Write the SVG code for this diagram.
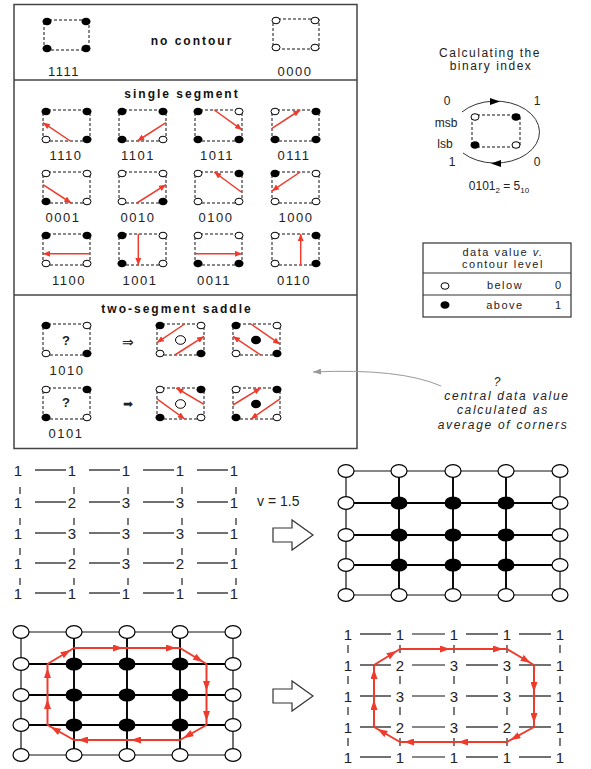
<svg xmlns="http://www.w3.org/2000/svg" xmlns:xlink="http://www.w3.org/1999/xlink" width="591" height="769" viewBox="0 0 591 769">
<style>
text { font-family: "Liberation Sans", Arial, sans-serif; fill: #222; }
.ttl { font-size: 12px; font-weight: bold; letter-spacing: 2px; text-anchor: middle; fill: #111; }
.code { font-size: 13px; letter-spacing: 1.5px; text-anchor: middle; }
.hint { font-size: 12px; letter-spacing: 1.5px; text-anchor: middle; }
.note { font-size: 12px; letter-spacing: 1.7px; text-anchor: middle; font-style: italic; }
.sq { fill: none; stroke: #111; stroke-width: 1; stroke-dasharray: 3 2; }
.seg { stroke: #ee3b2b; stroke-width: 1.5; fill: none; marker-end: url(#ahS); }
.ctr { stroke: #ee3b2b; stroke-width: 2; fill: none; marker-end: url(#ahL); }
.num { font-family: "DejaVu Sans", sans-serif; font-size: 15px; text-anchor: middle; fill: #000; }
.gl { stroke: #111; stroke-width: 1.2; }
.gi { stroke: #000; stroke-width: 1.9; }
.tk { stroke: #222; stroke-width: 1.2; }
.n0 { fill: #fff; stroke: #000; stroke-width: 1.2; }
.n1 { fill: #000; }
.frame { fill: none; stroke: #444; stroke-width: 1.5; }
.block { fill: #fff; stroke: #333; stroke-width: 1.2; }
</style>
<defs>
  <ellipse id="d1" rx="4.5" ry="3.8" fill="#000"/>
  <ellipse id="d0" rx="4" ry="3.3" fill="#fff" stroke="#000" stroke-width="1"/>
  <marker id="ahS" viewBox="0 0 7 6" refX="7" refY="3" markerWidth="7" markerHeight="6" markerUnits="userSpaceOnUse" orient="auto">
    <path d="M0,0 L7,3 L0,6 z" fill="#ee3b2b"/>
  </marker>
  <marker id="ahL" viewBox="0 0 14 7" refX="14" refY="3.5" markerWidth="14" markerHeight="7" markerUnits="userSpaceOnUse" orient="auto">
    <path d="M0,0 L10,3.5 L0,7 z" fill="#ee3b2b"/>
  </marker>
  <marker id="ahG" viewBox="0 0 8 6" refX="8" refY="3" markerWidth="8" markerHeight="6" markerUnits="userSpaceOnUse" orient="auto">
    <path d="M0,0 L8,3 L0,6 z" fill="#999"/>
  </marker>
</defs>

<rect width="591" height="769" fill="#fff"/>

<!-- case table frame -->
<g id="case-table">
  <rect class="frame" x="14" y="4.5" width="343" height="444"/>
  <line class="frame" x1="14" y1="80" x2="357" y2="80"/>
  <line class="frame" x1="14" y1="295" x2="357" y2="295"/>
  <text class="ttl" x="192" y="45">no contour</text>
  <text class="ttl" x="182" y="98">single segment</text>
  <text class="ttl" x="177" y="313">two-segment saddle</text>
</g>

<!-- no contour -->
<g id="case-1111" transform="translate(44,20)">
  <rect class="sq" width="45" height="30"/>
  <use href="#d1" x="3" y="1.5"/><use href="#d1" x="42" y="1.5"/><use href="#d1" x="42" y="28.5"/><use href="#d1" x="3" y="28.5"/>
  <text class="code" x="20" y="56">1111</text>
</g>
<g id="case-0000" transform="translate(273,19)">
  <rect class="sq" width="46" height="30"/>
  <use href="#d0" x="3" y="1.5"/><use href="#d0" x="42" y="1.5"/><use href="#d0" x="42" y="28.5"/><use href="#d0" x="3" y="28.5"/>
  <text class="code" x="22" y="57">0000</text>
</g>

<!-- single segment, row 1 -->
<g id="case-1110" transform="translate(43,110)">
  <rect class="sq" width="47" height="31"/>
  <use href="#d1" x="3" y="1.5"/><use href="#d1" x="44" y="1.5"/><use href="#d1" x="44" y="29.5"/><use href="#d0" x="3" y="29.5"/>
  <path class="seg" d="M27.3,31 L0,12.7"/>
  <text class="code" x="23" y="50">1110</text>
</g>
<g id="case-1101" transform="translate(119,110)">
  <rect class="sq" width="47" height="31"/>
  <use href="#d1" x="3" y="1.5"/><use href="#d1" x="44" y="1.5"/><use href="#d0" x="44" y="29.5"/><use href="#d1" x="3" y="29.5"/>
  <path class="seg" d="M47,12.7 L18.3,31"/>
  <text class="code" x="19" y="50">1101</text>
</g>
<g id="case-1011" transform="translate(195,110)">
  <rect class="sq" width="47" height="31"/>
  <use href="#d1" x="3" y="1.5"/><use href="#d0" x="44" y="1.5"/><use href="#d1" x="44" y="29.5"/><use href="#d1" x="3" y="29.5"/>
  <path class="seg" d="M19.3,0 L47,19.8"/>
  <text class="code" x="22" y="50">1011</text>
</g>
<g id="case-0111" transform="translate(272,110)">
  <rect class="sq" width="47" height="31"/>
  <use href="#d0" x="3" y="1.5"/><use href="#d1" x="44" y="1.5"/><use href="#d1" x="44" y="29.5"/><use href="#d1" x="3" y="29.5"/>
  <path class="seg" d="M0,18.3 L28.2,0"/>
  <text class="code" x="22" y="50">0111</text>
</g>

<!-- single segment, row 2 -->
<g id="case-0001" transform="translate(43,172)">
  <rect class="sq" width="47" height="31"/>
  <use href="#d0" x="3" y="1.5"/><use href="#d0" x="44" y="1.5"/><use href="#d0" x="44" y="29.5"/><use href="#d1" x="3" y="29.5"/>
  <path class="seg" d="M0,12.7 L28.2,31"/>
  <text class="code" x="20" y="50">0001</text>
</g>
<g id="case-0010" transform="translate(119,172)">
  <rect class="sq" width="47" height="31"/>
  <use href="#d0" x="3" y="1.5"/><use href="#d0" x="44" y="1.5"/><use href="#d1" x="44" y="29.5"/><use href="#d0" x="3" y="29.5"/>
  <path class="seg" d="M17.9,31 L47,12.7"/>
  <text class="code" x="19" y="50">0010</text>
</g>
<g id="case-0100" transform="translate(195,172)">
  <rect class="sq" width="47" height="31"/>
  <use href="#d0" x="3" y="1.5"/><use href="#d1" x="44" y="1.5"/><use href="#d0" x="44" y="29.5"/><use href="#d0" x="3" y="29.5"/>
  <path class="seg" d="M47,20.5 L19.3,0"/>
  <text class="code" x="21" y="50">0100</text>
</g>
<g id="case-1000" transform="translate(272,172)">
  <rect class="sq" width="47" height="31"/>
  <use href="#d1" x="3" y="1.5"/><use href="#d0" x="44" y="1.5"/><use href="#d0" x="44" y="29.5"/><use href="#d0" x="3" y="29.5"/>
  <path class="seg" d="M28.2,0 L0,18.9"/>
  <text class="code" x="24" y="50">1000</text>
</g>

<!-- single segment, row 3 -->
<g id="case-1100" transform="translate(43,234)">
  <rect class="sq" width="47" height="31"/>
  <use href="#d1" x="3" y="1.5"/><use href="#d1" x="44" y="1.5"/><use href="#d0" x="44" y="29.5"/><use href="#d0" x="3" y="29.5"/>
  <path class="seg" d="M47,19.8 L0,19.8"/>
  <text class="code" x="26" y="51">1100</text>
</g>
<g id="case-1001" transform="translate(119,234)">
  <rect class="sq" width="47" height="31"/>
  <use href="#d1" x="3" y="1.5"/><use href="#d0" x="44" y="1.5"/><use href="#d0" x="44" y="29.5"/><use href="#d1" x="3" y="29.5"/>
  <path class="seg" d="M19.3,0 L19.3,31"/>
  <text class="code" x="21" y="51">1001</text>
</g>
<g id="case-0011" transform="translate(195,234)">
  <rect class="sq" width="47" height="31"/>
  <use href="#d0" x="3" y="1.5"/><use href="#d0" x="44" y="1.5"/><use href="#d1" x="44" y="29.5"/><use href="#d1" x="3" y="29.5"/>
  <path class="seg" d="M0,19.8 L47,19.8"/>
  <text class="code" x="19" y="51">0011</text>
</g>
<g id="case-0110" transform="translate(272,234)">
  <rect class="sq" width="47" height="31"/>
  <use href="#d0" x="3" y="1.5"/><use href="#d1" x="44" y="1.5"/><use href="#d1" x="44" y="29.5"/><use href="#d0" x="3" y="29.5"/>
  <path class="seg" d="M28.7,31 L28.7,0"/>
  <text class="code" x="22" y="51">0110</text>
</g>

<!-- two-segment saddle, 1010 -->
<g id="case-1010" transform="translate(43,324)">
  <rect class="sq" width="47" height="31"/>
  <use href="#d1" x="3" y="1.5"/><use href="#d0" x="44" y="1.5"/><use href="#d1" x="44" y="29.5"/><use href="#d0" x="3" y="29.5"/>
  <text x="23" y="21" font-size="13" font-weight="bold" text-anchor="middle" fill="#333">?</text>
  <text class="code" x="24" y="51">1010</text>
</g>
<text x="128" y="347" font-family="DejaVu Sans, sans-serif" font-size="14" text-anchor="middle" fill="#333">⇒</text>
<g id="case-1010-low" transform="translate(157,324)">
  <rect class="sq" width="47" height="31"/>
  <use href="#d1" x="3" y="1.5"/><use href="#d0" x="44" y="1.5"/><use href="#d1" x="44" y="29.5"/><use href="#d0" x="3" y="29.5"/>
  <ellipse cx="23.5" cy="16" rx="5" ry="4.3" fill="#fff" stroke="#000"/>
  <path class="seg" d="M27.7,0 L0,18.6"/>
  <path class="seg" d="M17.9,31 L47,12.4"/>
</g>
<g id="case-1010-high" transform="translate(233,324)">
  <rect class="sq" width="47" height="31"/>
  <use href="#d1" x="3" y="1.5"/><use href="#d0" x="44" y="1.5"/><use href="#d1" x="44" y="29.5"/><use href="#d0" x="3" y="29.5"/>
  <ellipse cx="23" cy="16" rx="5" ry="4.3" fill="#000"/>
  <path class="seg" d="M17.9,0 L47,20.2"/>
  <path class="seg" d="M27.7,31 L0,12.4"/>
</g>

<!-- two-segment saddle, 0101 -->
<g id="case-0101" transform="translate(43,388)">
  <rect class="sq" width="47" height="31"/>
  <use href="#d0" x="3" y="1.5"/><use href="#d1" x="44" y="1.5"/><use href="#d0" x="44" y="29.5"/><use href="#d1" x="3" y="29.5"/>
  <text x="23" y="19" font-size="13" font-weight="bold" text-anchor="middle" fill="#333">?</text>
  <text class="code" x="23" y="50">0101</text>
</g>
<text x="128" y="408" font-family="DejaVu Sans, sans-serif" font-size="12" text-anchor="middle" fill="#666">➡</text>
<g id="case-0101-low" transform="translate(157,388)">
  <rect class="sq" width="47" height="31"/>
  <use href="#d0" x="3" y="1.5"/><use href="#d1" x="44" y="1.5"/><use href="#d0" x="44" y="29.5"/><use href="#d1" x="3" y="29.5"/>
  <ellipse cx="23.5" cy="16" rx="5" ry="4.3" fill="#fff" stroke="#000"/>
  <path class="seg" d="M47,16.4 L19.3,0"/>
  <path class="seg" d="M0,10.9 L27.7,31"/>
</g>
<g id="case-0101-high" transform="translate(233,388)">
  <rect class="sq" width="47" height="31"/>
  <use href="#d0" x="3" y="1.5"/><use href="#d1" x="44" y="1.5"/><use href="#d0" x="44" y="29.5"/><use href="#d1" x="3" y="29.5"/>
  <ellipse cx="23" cy="16" rx="5" ry="4.3" fill="#000"/>
  <path class="seg" d="M0,17 L27.7,0"/>
  <path class="seg" d="M47,10.9 L17.9,31"/>
</g>

<!-- binary index explanation -->
<g id="binary-index">
  <text class="hint" x="490" y="57">Calculating the</text>
  <text class="hint" x="491" y="70">binary index</text>
  <path d="M462,112 A44 31 0 1 1 463,153" fill="none" stroke="#333" stroke-width="1"/>
  <polygon points="500,101.5 490,98 490,105" fill="#000"/>
  <polygon points="491,163.5 501,160 501,167" fill="#000"/>
  <rect class="sq" x="472" y="115" width="48" height="32"/>
  <use href="#d0" x="475" y="117"/><use href="#d1" x="516" y="117"/><use href="#d0" x="516" y="145"/><use href="#d1" x="475" y="145"/>
  <text x="447" y="105" font-size="12" text-anchor="middle">0</text>
  <text x="537" y="105" font-size="12" text-anchor="middle">1</text>
  <text x="446" y="127" font-size="12" text-anchor="middle">msb</text>
  <text x="445" y="148" font-size="12" text-anchor="middle">lsb</text>
  <text x="452" y="166" font-size="12" text-anchor="middle">1</text>
  <text x="537" y="166" font-size="12" text-anchor="middle">0</text>
  <text x="499" y="190" font-size="12" text-anchor="middle">0101<tspan font-size="8" dy="3">2</tspan><tspan dy="-3"> = 5</tspan><tspan font-size="8" dy="3">10</tspan></text>
</g>

<!-- legend -->
<g id="legend">
  <rect x="423" y="243" width="148" height="74" fill="#fff" stroke="#333" stroke-width="1.2"/>
  <line x1="423" y1="273" x2="571" y2="273" stroke="#333" stroke-width="1.2"/>
  <line x1="423" y1="295" x2="571" y2="295" stroke="#333" stroke-width="1.2"/>
  <text x="503" y="256" font-size="11" letter-spacing="1.5" text-anchor="middle">data value <tspan font-style="italic">v.</tspan></text>
  <text x="503" y="268" font-size="11" letter-spacing="1.5" text-anchor="middle">contour level</text>
  <use href="#d0" x="445" y="286"/>
  <text x="505" y="289" font-size="11" letter-spacing="1.5" text-anchor="middle">below</text>
  <text x="558" y="289" font-size="11" text-anchor="middle">0</text>
  <use href="#d1" x="445" y="305"/>
  <text x="505" y="309" font-size="11" letter-spacing="1.5" text-anchor="middle">above</text>
  <text x="558" y="309" font-size="11" text-anchor="middle">1</text>
</g>

<!-- saddle note -->
<g id="saddle-note">
  <text class="note" x="498" y="386">?</text>
  <text class="note" x="507" y="400">central data value</text>
  <text class="note" x="503" y="414">calculated as</text>
  <text class="note" x="503" y="429">average of corners</text>
</g>
<g id="note-leader">
  <path d="M441,386 Q400,368 313,372" fill="none" stroke="#999" stroke-width="1" marker-end="url(#ahG)"/>
</g>

<!-- data grid -->
<g id="grid-values">
  <g class="gl">
    <line x1="35" y1="470" x2="66" y2="470"/><line x1="89" y1="470" x2="120" y2="470"/><line x1="143" y1="470" x2="174" y2="470"/><line x1="197" y1="470" x2="228" y2="470"/>
    <line x1="35" y1="502" x2="66" y2="502"/><line x1="89" y1="502" x2="120" y2="502"/><line x1="143" y1="502" x2="174" y2="502"/><line x1="197" y1="502" x2="228" y2="502"/>
    <line x1="35" y1="533" x2="66" y2="533"/><line x1="89" y1="533" x2="120" y2="533"/><line x1="143" y1="533" x2="174" y2="533"/><line x1="197" y1="533" x2="228" y2="533"/>
    <line x1="35" y1="563" x2="66" y2="563"/><line x1="89" y1="563" x2="120" y2="563"/><line x1="143" y1="563" x2="174" y2="563"/><line x1="197" y1="563" x2="228" y2="563"/>
    <line x1="35" y1="593" x2="66" y2="593"/><line x1="89" y1="593" x2="120" y2="593"/><line x1="143" y1="593" x2="174" y2="593"/><line x1="197" y1="593" x2="228" y2="593"/>
  </g>
  <g class="tk">
    <line x1="20" y1="487" x2="20" y2="494"/><line x1="74" y1="487" x2="74" y2="494"/><line x1="128" y1="487" x2="128" y2="494"/><line x1="182" y1="487" x2="182" y2="494"/><line x1="236" y1="487" x2="236" y2="494"/>
    <line x1="20" y1="518" x2="20" y2="525"/><line x1="74" y1="518" x2="74" y2="525"/><line x1="128" y1="518" x2="128" y2="525"/><line x1="182" y1="518" x2="182" y2="525"/><line x1="236" y1="518" x2="236" y2="525"/>
    <line x1="20" y1="548" x2="20" y2="555"/><line x1="74" y1="548" x2="74" y2="555"/><line x1="128" y1="548" x2="128" y2="555"/><line x1="182" y1="548" x2="182" y2="555"/><line x1="236" y1="548" x2="236" y2="555"/>
    <line x1="20" y1="578" x2="20" y2="585"/><line x1="74" y1="578" x2="74" y2="585"/><line x1="128" y1="578" x2="128" y2="585"/><line x1="182" y1="578" x2="182" y2="585"/><line x1="236" y1="578" x2="236" y2="585"/>
  </g>
  <g class="num">
    <text x="18" y="475.5">1</text><text x="72" y="475.5">1</text><text x="126" y="475.5">1</text><text x="180" y="475.5">1</text><text x="234" y="475.5">1</text>
    <text x="18" y="507.5">1</text><text x="72" y="507.5">2</text><text x="126" y="507.5">3</text><text x="180" y="507.5">3</text><text x="234" y="507.5">1</text>
    <text x="18" y="538.5">1</text><text x="72" y="538.5">3</text><text x="126" y="538.5">3</text><text x="180" y="538.5">3</text><text x="234" y="538.5">1</text>
    <text x="18" y="568.5">1</text><text x="72" y="568.5">2</text><text x="126" y="568.5">3</text><text x="180" y="568.5">2</text><text x="234" y="568.5">1</text>
    <text x="18" y="598.5">1</text><text x="72" y="598.5">1</text><text x="126" y="598.5">1</text><text x="180" y="598.5">1</text><text x="234" y="598.5">1</text>
  </g>
</g>

<!-- threshold step -->
<g id="threshold">
  <text x="257" y="506" font-family="DejaVu Sans, sans-serif" font-size="14" fill="#111">v = 1.5</text>
  <polygon class="block" points="273,528 292,528 292,520 313,535 292,550 292,542 273,542"/>
</g>

<!-- thresholded grid -->
<g id="grid-binary">
  <g class="gl">
    <line x1="346" y1="471" x2="560" y2="471"/><line x1="346" y1="595" x2="560" y2="595"/>
    <line x1="346" y1="471" x2="346" y2="595"/><line x1="560" y1="471" x2="560" y2="595"/>
  </g>
  <g class="gi">
    <line x1="346" y1="503" x2="560" y2="503"/><line x1="346" y1="535" x2="560" y2="535"/><line x1="346" y1="565" x2="560" y2="565"/>
    <line x1="399" y1="471" x2="399" y2="595"/><line x1="453" y1="471" x2="453" y2="595"/><line x1="506" y1="471" x2="506" y2="595"/>
  </g>
  <g>
    <ellipse class="n0" cx="346" cy="471" rx="8" ry="6.3"/><ellipse class="n0" cx="399" cy="471" rx="8" ry="6.3"/><ellipse class="n0" cx="453" cy="471" rx="8" ry="6.3"/><ellipse class="n0" cx="506" cy="471" rx="8" ry="6.3"/><ellipse class="n0" cx="560" cy="471" rx="8" ry="6.3"/>
    <ellipse class="n0" cx="346" cy="503" rx="8" ry="6.3"/><ellipse class="n1" cx="399" cy="503" rx="8.5" ry="6.6"/><ellipse class="n1" cx="453" cy="503" rx="8.5" ry="6.6"/><ellipse class="n1" cx="506" cy="503" rx="8.5" ry="6.6"/><ellipse class="n0" cx="560" cy="503" rx="8" ry="6.3"/>
    <ellipse class="n0" cx="346" cy="535" rx="8" ry="6.3"/><ellipse class="n1" cx="399" cy="535" rx="8.5" ry="6.6"/><ellipse class="n1" cx="453" cy="535" rx="8.5" ry="6.6"/><ellipse class="n1" cx="506" cy="535" rx="8.5" ry="6.6"/><ellipse class="n0" cx="560" cy="535" rx="8" ry="6.3"/>
    <ellipse class="n0" cx="346" cy="565" rx="8" ry="6.3"/><ellipse class="n1" cx="399" cy="565" rx="8.5" ry="6.6"/><ellipse class="n1" cx="453" cy="565" rx="8.5" ry="6.6"/><ellipse class="n1" cx="506" cy="565" rx="8.5" ry="6.6"/><ellipse class="n0" cx="560" cy="565" rx="8" ry="6.3"/>
    <ellipse class="n0" cx="346" cy="595" rx="8" ry="6.3"/><ellipse class="n0" cx="399" cy="595" rx="8" ry="6.3"/><ellipse class="n0" cx="453" cy="595" rx="8" ry="6.3"/><ellipse class="n0" cx="506" cy="595" rx="8" ry="6.3"/><ellipse class="n0" cx="560" cy="595" rx="8" ry="6.3"/>
  </g>
</g>

<!-- traced grid -->
<g id="grid-traced">
  <g class="gl">
    <line x1="21" y1="632" x2="233" y2="632"/><line x1="21" y1="755" x2="233" y2="755"/>
    <line x1="21" y1="632" x2="21" y2="755"/><line x1="233" y1="632" x2="233" y2="755"/>
  </g>
  <g class="gi">
    <line x1="21" y1="664" x2="233" y2="664"/><line x1="21" y1="695" x2="233" y2="695"/><line x1="21" y1="725" x2="233" y2="725"/>
    <line x1="74" y1="632" x2="74" y2="755"/><line x1="127" y1="632" x2="127" y2="755"/><line x1="180" y1="632" x2="180" y2="755"/>
  </g>
  <g>
    <ellipse class="n0" cx="21" cy="632" rx="8" ry="6.3"/><ellipse class="n0" cx="74" cy="632" rx="8" ry="6.3"/><ellipse class="n0" cx="127" cy="632" rx="8" ry="6.3"/><ellipse class="n0" cx="180" cy="632" rx="8" ry="6.3"/><ellipse class="n0" cx="233" cy="632" rx="8" ry="6.3"/>
    <ellipse class="n0" cx="21" cy="664" rx="8" ry="6.3"/><ellipse class="n1" cx="74" cy="664" rx="8.5" ry="6.6"/><ellipse class="n1" cx="127" cy="664" rx="8.5" ry="6.6"/><ellipse class="n1" cx="180" cy="664" rx="8.5" ry="6.6"/><ellipse class="n0" cx="233" cy="664" rx="8" ry="6.3"/>
    <ellipse class="n0" cx="21" cy="695" rx="8" ry="6.3"/><ellipse class="n1" cx="74" cy="695" rx="8.5" ry="6.6"/><ellipse class="n1" cx="127" cy="695" rx="8.5" ry="6.6"/><ellipse class="n1" cx="180" cy="695" rx="8.5" ry="6.6"/><ellipse class="n0" cx="233" cy="695" rx="8" ry="6.3"/>
    <ellipse class="n0" cx="21" cy="725" rx="8" ry="6.3"/><ellipse class="n1" cx="74" cy="725" rx="8.5" ry="6.6"/><ellipse class="n1" cx="127" cy="725" rx="8.5" ry="6.6"/><ellipse class="n1" cx="180" cy="725" rx="8.5" ry="6.6"/><ellipse class="n0" cx="233" cy="725" rx="8" ry="6.3"/>
    <ellipse class="n0" cx="21" cy="755" rx="8" ry="6.3"/><ellipse class="n0" cx="74" cy="755" rx="8" ry="6.3"/><ellipse class="n0" cx="127" cy="755" rx="8" ry="6.3"/><ellipse class="n0" cx="180" cy="755" rx="8" ry="6.3"/><ellipse class="n0" cx="233" cy="755" rx="8" ry="6.3"/>
  </g>
</g>
<g id="contour-traced">
  <line class="ctr" x1="47.5" y1="664" x2="74" y2="648"/>
  <line class="ctr" x1="74" y1="648" x2="127" y2="648"/>
  <line class="ctr" x1="127" y1="648" x2="180" y2="648"/>
  <line class="ctr" x1="180" y1="648" x2="206.5" y2="664"/>
  <line class="ctr" x1="206.5" y1="664" x2="206.5" y2="695"/>
  <line class="ctr" x1="206.5" y1="695" x2="206.5" y2="725"/>
  <line class="ctr" x1="206.5" y1="725" x2="180" y2="740"/>
  <line class="ctr" x1="180" y1="740" x2="127" y2="740"/>
  <line class="ctr" x1="127" y1="740" x2="74" y2="740"/>
  <line class="ctr" x1="74" y1="740" x2="47.5" y2="725"/>
  <line class="ctr" x1="47.5" y1="725" x2="47.5" y2="695"/>
  <line class="ctr" x1="47.5" y1="695" x2="47.5" y2="664"/>
</g>

<!-- step to result -->
<g id="result-step">
  <polygon class="block" points="273,689 292,689 292,681 313,696 292,711 292,703 273,703"/>
</g>

<!-- result: values with contour -->
<g id="grid-result">
  <g class="gl">
    <line x1="360" y1="634" x2="391" y2="634"/><line x1="412" y1="634" x2="445" y2="634"/><line x1="466" y1="634" x2="498" y2="634"/><line x1="519" y1="634" x2="551" y2="634"/>
    <line x1="360" y1="665" x2="391" y2="665"/><line x1="412" y1="665" x2="445" y2="665"/><line x1="466" y1="665" x2="498" y2="665"/><line x1="519" y1="665" x2="551" y2="665"/>
    <line x1="360" y1="696" x2="391" y2="696"/><line x1="412" y1="696" x2="445" y2="696"/><line x1="466" y1="696" x2="498" y2="696"/><line x1="519" y1="696" x2="551" y2="696"/>
    <line x1="360" y1="727" x2="391" y2="727"/><line x1="412" y1="727" x2="445" y2="727"/><line x1="466" y1="727" x2="498" y2="727"/><line x1="519" y1="727" x2="551" y2="727"/>
    <line x1="360" y1="757" x2="391" y2="757"/><line x1="412" y1="757" x2="445" y2="757"/><line x1="466" y1="757" x2="498" y2="757"/><line x1="519" y1="757" x2="551" y2="757"/>
  </g>
  <g class="tk">
    <line x1="348" y1="645" x2="348" y2="653"/><line x1="400" y1="645" x2="400" y2="653"/><line x1="454" y1="645" x2="454" y2="653"/><line x1="507" y1="645" x2="507" y2="653"/><line x1="560" y1="645" x2="560" y2="653"/>
    <line x1="348" y1="676" x2="348" y2="684"/><line x1="400" y1="676" x2="400" y2="684"/><line x1="454" y1="676" x2="454" y2="684"/><line x1="507" y1="676" x2="507" y2="684"/><line x1="560" y1="676" x2="560" y2="684"/>
    <line x1="348" y1="707" x2="348" y2="715"/><line x1="400" y1="707" x2="400" y2="715"/><line x1="454" y1="707" x2="454" y2="715"/><line x1="507" y1="707" x2="507" y2="715"/><line x1="560" y1="707" x2="560" y2="715"/>
    <line x1="348" y1="738" x2="348" y2="746"/><line x1="400" y1="738" x2="400" y2="746"/><line x1="454" y1="738" x2="454" y2="746"/><line x1="507" y1="738" x2="507" y2="746"/><line x1="560" y1="738" x2="560" y2="746"/>
  </g>
  <g class="num">
    <text x="348" y="639.5">1</text><text x="400" y="639.5">1</text><text x="454" y="639.5">1</text><text x="507" y="639.5">1</text><text x="560" y="639.5">1</text>
    <text x="348" y="670.5">1</text><text x="400" y="670.5">2</text><text x="454" y="670.5">3</text><text x="507" y="670.5">3</text><text x="560" y="670.5">1</text>
    <text x="348" y="701.5">1</text><text x="400" y="701.5">3</text><text x="454" y="701.5">3</text><text x="507" y="701.5">3</text><text x="560" y="701.5">1</text>
    <text x="348" y="732.5">1</text><text x="400" y="732.5">2</text><text x="454" y="732.5">3</text><text x="507" y="732.5">2</text><text x="560" y="732.5">1</text>
    <text x="348" y="762.5">1</text><text x="400" y="762.5">1</text><text x="454" y="762.5">1</text><text x="507" y="762.5">1</text><text x="560" y="762.5">1</text>
  </g>
</g>
<g id="contour-result">
  <line class="ctr" x1="374" y1="665" x2="400" y2="649"/>
  <line class="ctr" x1="400" y1="649" x2="454" y2="649"/>
  <line class="ctr" x1="454" y1="649" x2="507" y2="649"/>
  <line class="ctr" x1="507" y1="649" x2="534" y2="665"/>
  <line class="ctr" x1="534" y1="665" x2="534" y2="696"/>
  <line class="ctr" x1="534" y1="696" x2="534" y2="727"/>
  <line class="ctr" x1="534" y1="727" x2="507" y2="742"/>
  <line class="ctr" x1="507" y1="742" x2="454" y2="742"/>
  <line class="ctr" x1="454" y1="742" x2="400" y2="742"/>
  <line class="ctr" x1="400" y1="742" x2="374" y2="727"/>
  <line class="ctr" x1="374" y1="727" x2="374" y2="696"/>
  <line class="ctr" x1="374" y1="696" x2="374" y2="665"/>
</g>
</svg>
